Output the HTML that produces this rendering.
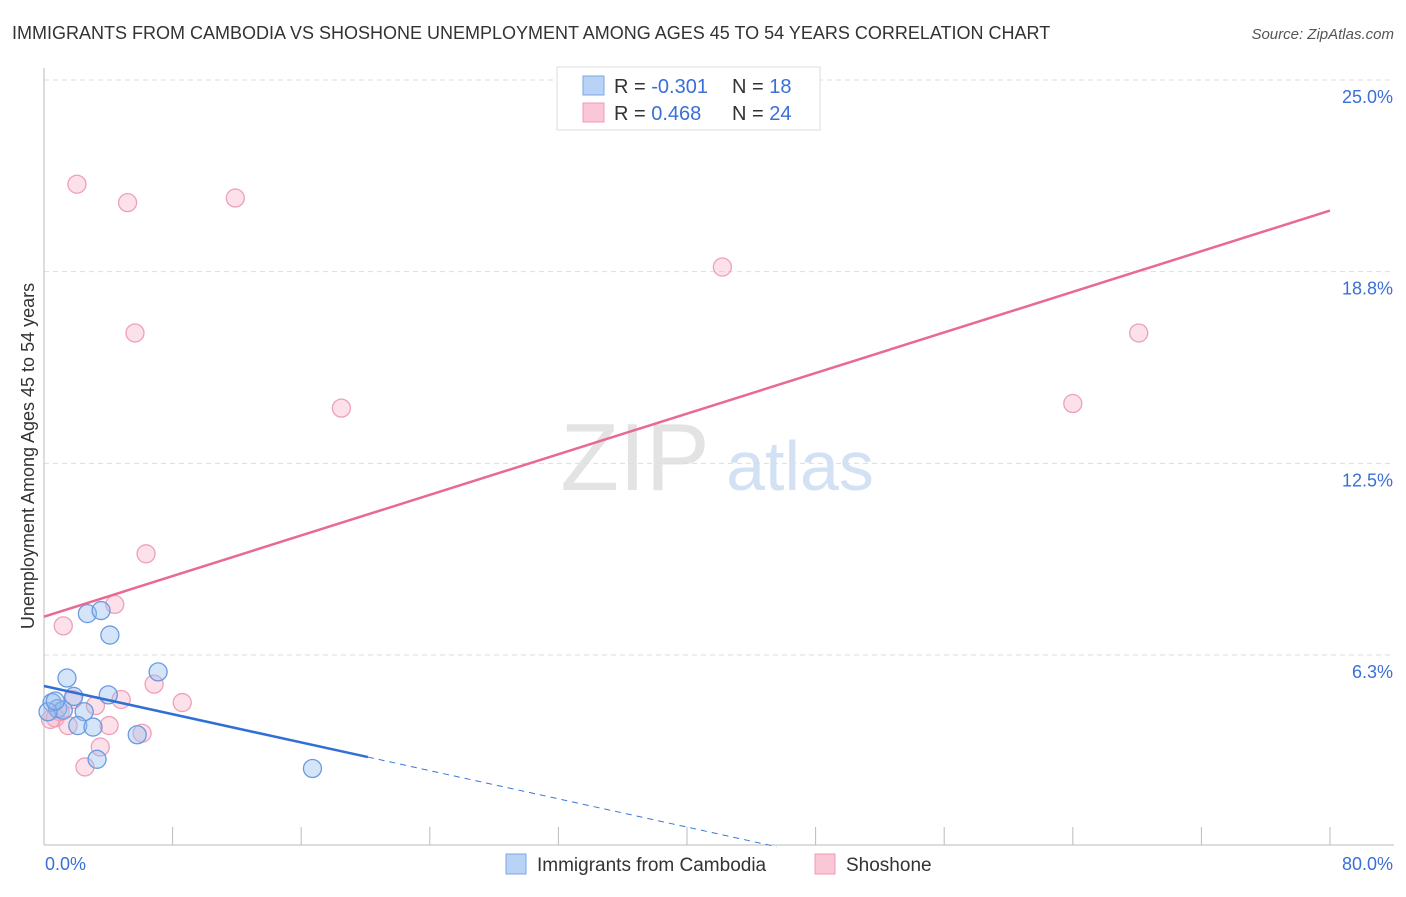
<!DOCTYPE html>
<html><head><meta charset="utf-8"><style>
body{margin:0;background:#fff;font-family:"Liberation Sans",sans-serif;}
svg text{font-family:"Liberation Sans",sans-serif;}
</style></head><body>
<svg id="chart" width="1406" height="892" xmlns="http://www.w3.org/2000/svg">
<text x="12" y="39" font-size="18" fill="#333">IMMIGRANTS FROM CAMBODIA VS SHOSHONE UNEMPLOYMENT AMONG AGES 45 TO 54 YEARS CORRELATION CHART</text>
<text x="1394" y="39" font-size="15" fill="#555" text-anchor="end" font-style="italic">Source: ZipAtlas.com</text>
<g>
<text x="635" y="490" font-size="96" fill="#ddd" font-family="Liberation Serif" text-anchor="middle" opacity="0.8">ZIP</text>
<text x="800" y="490" font-size="70" fill="#c8daf2" text-anchor="middle" opacity="0.8">atlas</text>
</g>
<g id="grid"></g>
<g id="axes"></g>
<g id="marks"></g>
<text transform="translate(34,456) rotate(-90)" font-size="18" fill="#333" text-anchor="middle">Unemployment Among Ages 45 to 54 years</text>
<g>
<rect x="557" y="67" width="263" height="63" fill="#fff" stroke="#ddd"/>
<rect x="583" y="76" width="21" height="19" fill="#b8d3f5" stroke="#7aaae6"/>
<rect x="583" y="103" width="21" height="19" fill="#fac7d6" stroke="#f09ab5"/>
<text x="614" y="93" font-size="20" fill="#333">R = <tspan fill="#3a6fd8">-0.301</tspan></text>
<text x="732" y="93" font-size="20" fill="#333">N = <tspan fill="#3a6fd8"> 18</tspan></text>
<text x="614" y="120" font-size="20" fill="#333">R = <tspan fill="#3a6fd8"> 0.468</tspan></text>
<text x="732" y="120" font-size="20" fill="#333">N = <tspan fill="#3a6fd8">24</tspan></text>
</g>
<g>
<rect x="506" y="854" width="20" height="20" fill="#b8d3f5" stroke="#7aaae6"/>
<text x="537" y="871" font-size="19" fill="#333">Immigrants from Cambodia</text>
<rect x="815" y="854" width="20" height="20" fill="#fac7d6" stroke="#f09ab5"/>
<text x="846" y="871" font-size="19" fill="#333">Shoshone</text>
</g>
</svg>
<script>
const yTicks=[6.25,12.5,18.75,25];
const yTickLabels=["6.3%","12.5%","18.8%","25.0%"];
const xTickLabels=["0.0%","80.0%"];
const blueX=[2.7,3.55,4.1,1.43,7.1,4.0,1.85,0.5,0.85,1.2,2.5,2.1,3.05,5.8,3.3,16.7,0.25,0.7];
const blueY=[7.6,7.7,6.9,5.5,5.7,4.95,4.9,4.7,4.5,4.45,4.4,3.95,3.9,3.65,2.85,2.55,4.4,4.75];
const pinkX=[2.05,5.2,11.9,5.66,42.2,68.1,18.5,64.0,6.35,4.4,1.2,6.85,8.6,4.8,3.2,1.8,0.7,1.5,4.05,6.1,3.5,2.55,1.0,0.4];
const pinkY=[21.6,21.0,21.15,16.75,18.9,16.75,14.3,14.45,9.55,7.9,7.2,5.3,4.7,4.8,4.6,4.8,4.2,3.95,3.95,3.7,3.25,2.6,4.4,4.15];
const pinkTrend=[7.5,20.74];   // y at x=0 and x=80
const blueTrend=[5.24,-0.115]; // intercept, slope
const blueSolidEnd=20.15;

const NS="http://www.w3.org/2000/svg";
const X=v=>44+v*16.075;
const Y=v=>846.7-v*30.67;
function mk(tag,attrs,parent){const e=document.createElementNS(NS,tag);for(const k in attrs)e.setAttribute(k,attrs[k]);document.getElementById(parent).appendChild(e);return e;}

yTicks.forEach((t,i)=>{
  const g=mk('line',{x1:44,x2:1394,y1:Y(t),y2:Y(t),stroke:'#ddd','stroke-dasharray':'5,4'},'grid');
  
  
  const tx=mk('text',{x:1393,y:Y(t)+23,'font-size':18,fill:'#3a6fd8','text-anchor':'end'},'axes');
  tx.textContent=yTickLabels[i];
  
  
});
let a=mk('line',{x1:44,x2:44,y1:68,y2:845,stroke:'#bbb'},'axes');


a=mk('line',{x1:44,x2:1394,y1:845,y2:845,stroke:'#bbb'},'axes');


for(let i=0;i<=10;i++){
  const t=mk('line',{x1:X(i*8),x2:X(i*8),y1:827,y2:845,stroke:'#bbb'},'axes');
  
  
}
let xl=mk('text',{x:45,y:870,'font-size':18,fill:'#3a6fd8'},'axes');
xl.textContent=xTickLabels[0];


xl=mk('text',{x:1393,y:870,'font-size':18,fill:'#3a6fd8','text-anchor':'end'},'axes');
xl.textContent=xTickLabels[1];



pinkX.forEach((v,i)=>{
  const c=mk('circle',{cx:X(v),cy:Y(pinkY[i]),r:9,fill:'rgba(246,170,195,0.35)',stroke:'#eea0b8','stroke-width':1.3},'marks');
  
  
});
blueX.forEach((v,i)=>{
  const c=mk('circle',{cx:X(v),cy:Y(blueY[i]),r:9,fill:'rgba(150,190,240,0.4)',stroke:'#6a9be0','stroke-width':1.3},'marks');
  
  
});
let l=mk('line',{x1:X(0),y1:Y(pinkTrend[0]),x2:X(80),y2:Y(pinkTrend[1]),stroke:'#e86a93','stroke-width':2.5},'marks');


const bEnd=-blueTrend[0]/blueTrend[1];
l=mk('line',{x1:X(blueSolidEnd),y1:Y(blueTrend[0]+blueTrend[1]*blueSolidEnd),x2:X(bEnd),y2:Y(0),stroke:'#3a78d8','stroke-width':1,'stroke-dasharray':'6,5'},'marks');


l=mk('line',{x1:X(0),y1:Y(blueTrend[0]),x2:X(blueSolidEnd),y2:Y(blueTrend[0]+blueTrend[1]*blueSolidEnd),stroke:'#2f6fd6','stroke-width':2.5},'marks');


</script>
</body></html>
